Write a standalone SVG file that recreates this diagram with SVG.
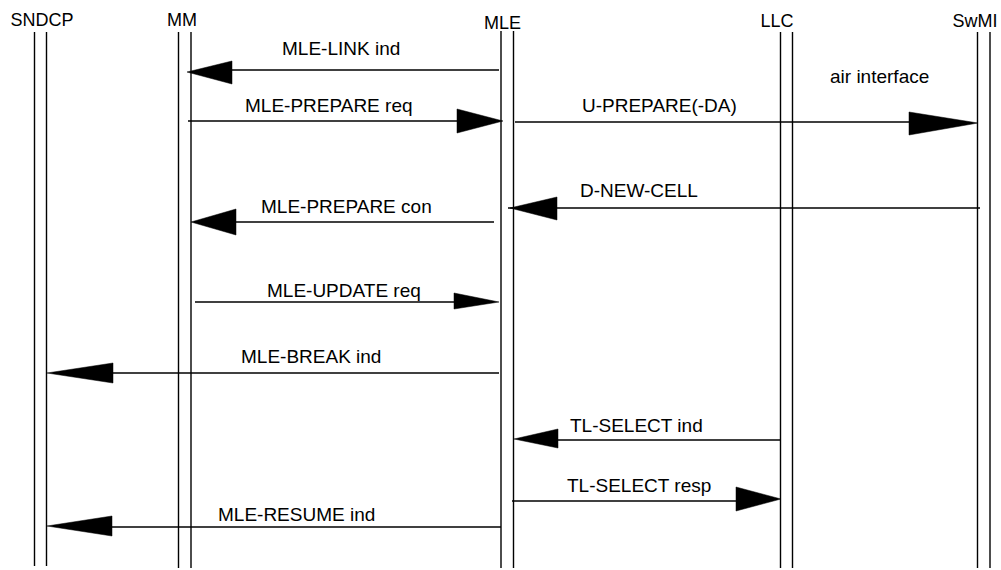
<svg xmlns="http://www.w3.org/2000/svg" width="1001" height="570" viewBox="0 0 1001 570">
<style>
.ll{stroke:#000;stroke-width:1.4;fill:none}
.msg{stroke:#000;stroke-width:1.6;fill:none}
.ah{fill:#000;stroke:#000;stroke-width:0.5}
.hd{font-family:"Liberation Sans",Arial,sans-serif;font-size:18px;fill:#000;text-anchor:middle}
.lb{font-family:"Liberation Sans",Arial,sans-serif;font-size:19px;fill:#000}
</style>
<rect width="1001" height="570" fill="#fff"/>
<g id="SNDCP">
<text class="hd" x="42" y="25.5">SNDCP</text>
<line class="ll" x1="34.5" y1="32" x2="34.5" y2="566"/>
<line class="ll" x1="46.5" y1="32" x2="46.5" y2="566"/>
</g>
<g id="MM">
<text class="hd" x="182" y="26">MM</text>
<line class="ll" x1="178.5" y1="32" x2="178.5" y2="568"/>
<line class="ll" x1="191" y1="32" x2="191" y2="568"/>
</g>
<g id="MLE">
<text class="hd" x="502.5" y="29">MLE</text>
<line class="ll" x1="501" y1="31" x2="501" y2="568"/>
<line class="ll" x1="513.5" y1="31" x2="513.5" y2="568"/>
</g>
<g id="LLC">
<text class="hd" x="777" y="27">LLC</text>
<line class="ll" x1="780.5" y1="32" x2="780.5" y2="568"/>
<line class="ll" x1="792.5" y1="32" x2="792.5" y2="568"/>
</g>
<g id="SwMI">
<text class="hd" x="975" y="27">SwMI</text>
<line class="ll" x1="977.5" y1="32" x2="977.5" y2="568"/>
<line class="ll" x1="990" y1="32" x2="990" y2="568"/>
</g>
<g id="connectors">
<text class="lb" x="830" y="83">air interface</text>
<!-- MLE-LINK ind -->
<line class="msg" x1="499" y1="70" x2="225" y2="70"/>
<polygon class="ah" points="187,72 232,61 232,84"/>
<text class="lb" x="282" y="55">MLE-LINK ind</text>
<!-- MLE-PREPARE req -->
<line class="msg" x1="188" y1="121" x2="460" y2="121"/>
<polygon class="ah" points="503,121 457,109 457,133"/>
<text class="lb" x="245" y="112">MLE-PREPARE req</text>
<!-- U-PREPARE(-DA) -->
<line class="msg" x1="515" y1="122" x2="912" y2="122"/>
<polygon class="ah" points="978,123 909,112 909,135"/>
<text class="lb" x="582" y="112">U-PREPARE(-DA)</text>
<!-- D-NEW-CELL -->
<line class="msg" x1="980" y1="208" x2="508" y2="208"/>
<polygon class="ah" points="510,208 557,197 557,220"/>
<text class="lb" x="580" y="197">D-NEW-CELL</text>
<!-- MLE-PREPARE con -->
<line class="msg" x1="494" y1="222" x2="230" y2="222"/>
<polygon class="ah" points="191,222 236,209 236,235"/>
<text class="lb" x="261" y="213">MLE-PREPARE con</text>
<!-- MLE-UPDATE req -->
<line class="msg" x1="195" y1="302" x2="458" y2="302"/>
<polygon class="ah" points="499,302 454,293 454,309"/>
<text class="lb" x="267" y="297">MLE-UPDATE req</text>
<!-- MLE-BREAK ind -->
<line class="msg" x1="499" y1="373" x2="108" y2="373"/>
<polygon class="ah" points="47,373 113,363 113,383"/>
<text class="lb" x="241" y="363">MLE-BREAK ind</text>
<!-- TL-SELECT ind -->
<line class="msg" x1="780" y1="440" x2="552" y2="440"/>
<polygon class="ah" points="514,439 558,429 558,448"/>
<text class="lb" x="570" y="432">TL-SELECT ind</text>
<!-- TL-SELECT resp -->
<line class="msg" x1="512" y1="501" x2="740" y2="501"/>
<polygon class="ah" points="781,499 736,487 736,511"/>
<text class="lb" x="567" y="492">TL-SELECT resp</text>
<!-- MLE-RESUME ind -->
<line class="msg" x1="501" y1="527" x2="108" y2="527"/>
<polygon class="ah" points="47,526 112,516 112,536"/>
<text class="lb" x="218" y="521">MLE-RESUME ind</text>
</g>
</svg>
